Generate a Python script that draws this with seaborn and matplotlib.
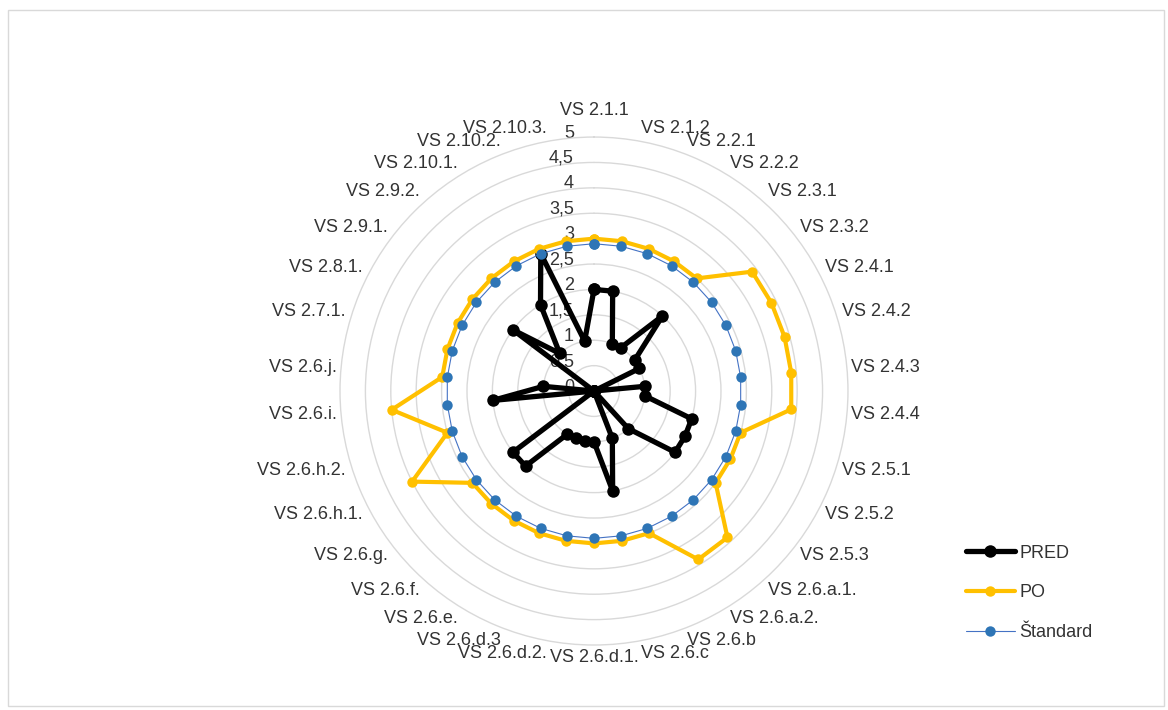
import numpy as np
import pandas as pd
import matplotlib
matplotlib.use("Agg")
import matplotlib.pyplot as plt
import matplotlib.transforms as mtransforms
from matplotlib.lines import Line2D
from matplotlib.patches import Rectangle
import seaborn as sns

# ---- data -------------------------------------------------------------
categories = [
    "VS 2.1.1", "VS 2.1.2", "VS 2.2.1", "VS 2.2.2", "VS 2.3.1", "VS 2.3.2",
    "VS 2.4.1", "VS 2.4.2", "VS 2.4.3", "VS 2.4.4", "VS 2.5.1", "VS 2.5.2",
    "VS 2.5.3", "VS 2.6.a.1.", "VS 2.6.a.2.", "VS 2.6.b", "VS 2.6.c",
    "VS 2.6.d.1.", "VS 2.6.d.2.", "VS 2.6.d.3", "VS 2.6.e.", "VS 2.6.f.",
    "VS 2.6.g.", "VS 2.6.h.1.", "VS 2.6.h.2.", "VS 2.6.i.", "VS 2.6.j.",
    "VS 2.7.1.", "VS 2.8.1.", "VS 2.9.1.", "VS 2.9.2.", "VS 2.10.1.",
    "VS 2.10.2.", "VS 2.10.3.",
]
pred = [2, 2, 1, 1, 2, 1, 1, 0, 1, 1, 2, 2, 2, 1, 0, 1, 2,
        1, 1, 1, 1, 2, 2, 0, 0, 2, 1, 0, 0, 2, 1, 2, 2.9, 1]
po = [3, 3, 3, 3, 3, 3.9, 3.9, 3.9, 3.9, 3.9, 3, 3, 3, 3.9, 3.9, 3, 3,
      3, 3, 3, 3, 3, 3, 4, 3, 4, 3, 3, 3, 3, 3, 3, 3, 3]
standard = [2.9, 2.9, 2.9, 2.9, 2.9, 2.9, 2.9, 2.9, 2.9, 2.9, 2.9, 2.9,
            2.9, 2.9, 2.9, 2.9, 2.9, 2.9, 2.9, 2.9, 2.9, 2.9, 2.9, 2.9,
            2.9, 2.9, 2.9, 2.9, 2.9, 2.9, 2.9, 2.9, 2.9, 2.9]
series_names = ["PRED", "PO", "Štandard"]
r_ticks = [0, 0.5, 1, 1.5, 2, 2.5, 3, 3.5, 4, 4.5, 5]
r_tick_labels = ["0", "0,5", "1", "1,5", "2", "2,5", "3", "3,5", "4", "4,5", "5"]

# ---- styling ----------------------------------------------------------
sns.set_theme(style="white")
plt.rcParams["font.family"] = ["Liberation Sans Narrow", "Liberation Sans", "DejaVu Sans"]
text_color = "#333333"
grid_color = "#d9d9d9"
styles = {
    "PRED": dict(color="#000000", lw=3.8, ms=9.0, z=3),
    "PO": dict(color="#FFC000", lw=3.0, ms=7.5, z=4),
    "Štandard": dict(color="#4472C4", lw=0.8, ms=7.5, z=5, mfc="#2E75B6"),
}

n = len(categories)
theta = [2 * np.pi * i / n for i in range(n)]

frames = []
for name, vals in zip(series_names, [pred, po, standard]):
    t = theta + [theta[0]]
    v = list(vals) + [vals[0]]
    frames.append(pd.DataFrame({"series": name, "theta": t, "value": v,
                                "order": range(len(t))}))
df = pd.concat(frames, ignore_index=True)

fig = plt.figure(figsize=(11.68, 7.10), dpi=100)
fig.patch.set_facecolor("white")
fig.add_artist(Rectangle((8 / 1168, 4 / 710), 1156 / 1168, 696 / 710,
                         transform=fig.transFigure, fill=False,
                         edgecolor=grid_color, lw=1.0))

ax = fig.add_axes([0.2911, 0.0915, 0.4349, 0.7155], projection="polar")
ax.set_theta_zero_location("N")
ax.set_theta_direction(-1)
ax.set_ylim(0, 5)
ax.set_yticks(r_ticks[1:-1])
ax.set_yticklabels([])
ax.set_xticks([])
ax.grid(True, axis="y", color=grid_color, lw=1.0)
ax.grid(False, axis="x")
ax.spines["polar"].set_color(grid_color)
ax.spines["polar"].set_linewidth(1.0)
ax.set_facecolor("white")

for name in series_names:
    st = styles[name]
    sub = df[df["series"] == name]
    sns.lineplot(data=sub, x="theta", y="value", ax=ax, sort=False,
                 estimator=None, color=st["color"], linewidth=st["lw"],
                 marker="o", markersize=st["ms"], markeredgewidth=0,
                 markerfacecolor=st.get("mfc", st["color"]),
                 zorder=st["z"], legend=False)
ax.set_xlabel("")
ax.set_ylabel("")

# radial value labels along the vertical axis
lab_tr = mtransforms.offset_copy(ax.transData, fig=fig, x=-20, y=4, units="dots")
for r, lab in zip(r_ticks, r_tick_labels):
    ax.text(0, r, lab, transform=lab_tr, ha="right", va="center",
            fontsize=13, color=text_color, zorder=2)

# category labels around the rim
for i, (t, lab) in enumerate(zip(theta, categories)):
    s, c = np.sin(t), np.cos(t)
    ha = "left" if s > 0.12 else ("right" if s < -0.12 else "center")
    va = "bottom" if c > 0.2 else ("top" if c < -0.2 else "center")
    rr = 5.35 if i == 0 else 5.08
    ax.text(t, rr, lab, ha=ha, va=va, fontsize=13, color=text_color,
            clip_on=False)

handles = [Line2D([0], [0], color=styles[nm]["color"], lw=styles[nm]["lw"],
                  marker="o", markersize=styles[nm]["ms"], markeredgewidth=0,
                  markerfacecolor=styles[nm].get("mfc", styles[nm]["color"]))
           for nm in series_names]
leg = fig.legend(handles, series_names, loc="center left",
                 bbox_to_anchor=(0.813, 0.165), frameon=False, fontsize=13,
                 handlelength=2.7, handletextpad=0.25, labelspacing=1.25)
for txt in leg.get_texts():
    txt.set_color(text_color)

fig.savefig("out.png", dpi=100, facecolor="white")
